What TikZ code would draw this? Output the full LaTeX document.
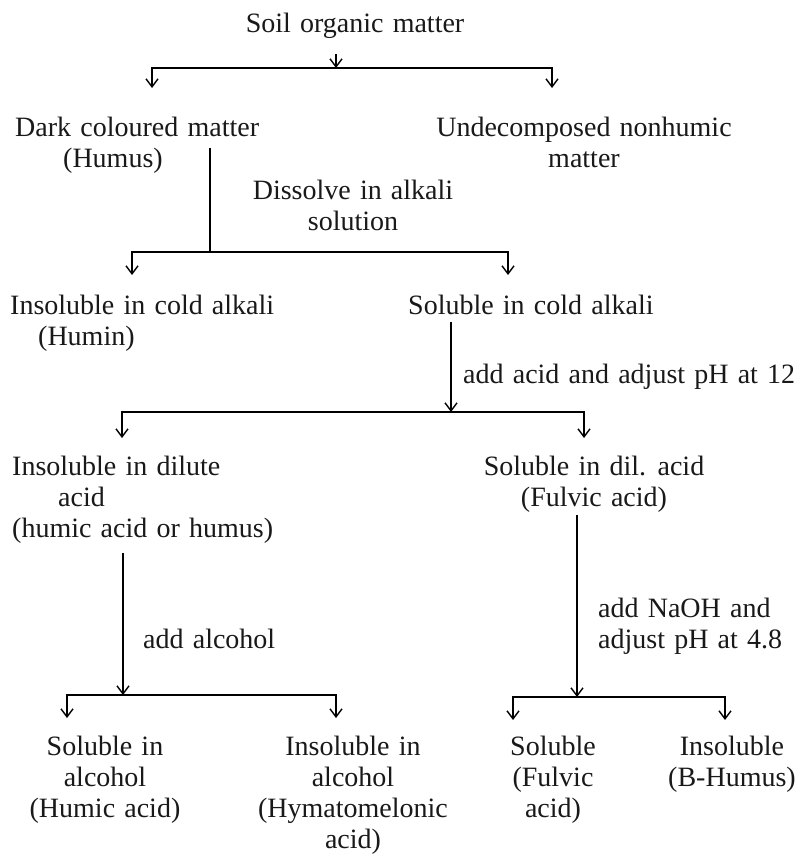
\documentclass[tikz,border=0pt]{standalone}
\usepackage{fontspec}
\setmainfont{Liberation Serif}
\usetikzlibrary{arrows.meta}
\newcommand\mylblfont{\fontsize{28}{31}\selectfont\spaceskip=9.2pt plus 2pt minus 1pt\relax}
\begin{document}
\begin{tikzpicture}[x=1pt,y=-1pt,
  lbl/.style={font=\mylblfont, inner sep=0pt, align=center, text=black!90},
  lbll/.style={lbl, align=left},
  ln/.style={line width=1.7pt},
  arr/.style={line width=1.6pt, -{Straight Barb[length=8pt,width=12pt,line width=1.4pt]}}]
\fill[white] (0,0) rectangle (800,856);
\useasboundingbox (0,0) rectangle (800,856);

% texts
\node[lbl, anchor=north] (soil) at (355,13) {Soil organic matter};
\node[lbll, anchor=north west] (dark) at (15,117) {Dark coloured matter\\\hspace*{48pt}(Humus)};
\node[lbl, anchor=north] (undec) at (584,117) {Undecomposed nonhumic\\matter};
\node[lbl, anchor=north] (dissolve) at (353,180) {Dissolve in alkali\\solution};
\node[lbll, anchor=north west] (insalk) at (10,295) {Insoluble in cold alkali\\\hspace*{28pt}(Humin)};
\node[lbll, anchor=north west] (solalk) at (408,295) {Soluble in cold alkali};
\node[lbll, anchor=west] (acid12) at (463,377) {add acid and adjust pH at 12};
\node[lbll, anchor=north west] (insdil) at (12,456) {Insoluble in dilute\\\hspace*{46pt}acid\\(humic acid or humus)};
\node[lbl, anchor=north] (soldil) at (594,456) {Soluble in dil. acid\\(Fulvic acid)};
\node[lbll, anchor=west] (alc) at (143,639) {add alcohol};
\node[lbll, anchor=north west] (naoh) at (598,598) {add NaOH and\\adjust pH at 4.8};
\node[lbl, anchor=north] (solalc) at (105,736) {Soluble in\\alcohol\\(Humic acid)};
\node[lbl, anchor=north] (insalc) at (353,736) {Insoluble in\\alcohol\\(Hymatomelonic\\acid)};
\node[lbl, anchor=north] (solful) at (553,736) {Soluble\\(Fulvic\\acid)};
\node[lbl, anchor=north] (insbh) at (732,736) {Insoluble\\(B-Humus)};

% junction coordinates
\coordinate (s1) at (336,54);
\coordinate (h1) at (336,68);
\coordinate (t1l) at (152,88);
\coordinate (t1r) at (552,88);

\coordinate (s2) at (210,148);
\coordinate (h2) at (210,252);
\coordinate (t2l) at (132,275);
\coordinate (t2r) at (508,275);

\coordinate (s3) at (451,322);
\coordinate (h3) at (451,412);
\coordinate (t3l) at (122,438);
\coordinate (t3r) at (584,438);

\coordinate (s4) at (123,553);
\coordinate (h4) at (123,695);
\coordinate (t4l) at (67,718);
\coordinate (t4r) at (336,718);

\coordinate (s5) at (577,515);
\coordinate (h5) at (577,697);
\coordinate (t5l) at (513,720);
\coordinate (t5r) at (725,720);

% connectors
\draw[arr] (s1) -- (h1);
\draw[arr] (h1) -| (t1l);
\draw[arr] (h1) -| (t1r);

\draw[ln] (s2) -- (h2);
\draw[arr] (h2) -| (t2l);
\draw[arr] (h2) -| (t2r);

\draw[arr] (s3) -- (h3);
\draw[arr] (h3) -| (t3l);
\draw[arr] (h3) -| (t3r);

\draw[arr] (s4) -- (h4);
\draw[arr] (h4) -| (t4l);
\draw[arr] (h4) -| (t4r);

\draw[arr] (s5) -- (h5);
\draw[arr] (h5) -| (t5l);
\draw[arr] (h5) -| (t5r);
\end{tikzpicture}
\end{document}
